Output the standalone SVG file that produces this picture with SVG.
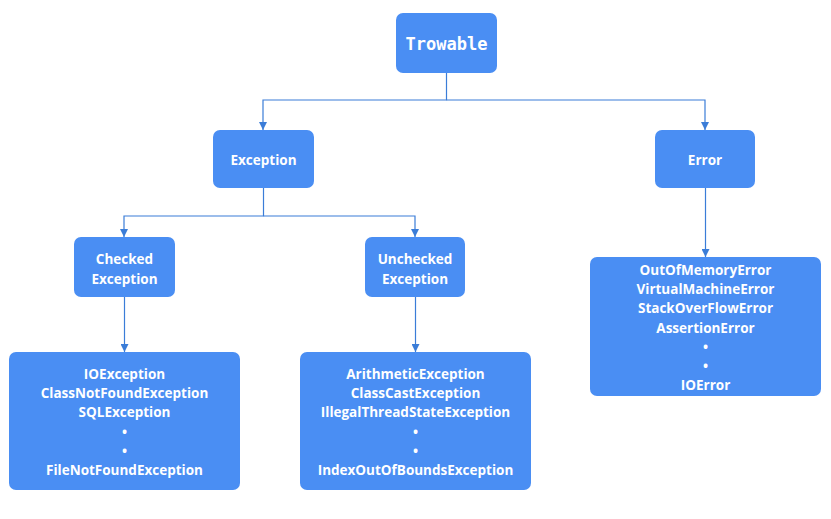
<svg xmlns="http://www.w3.org/2000/svg" width="831" height="519" viewBox="0 0 831 519">
<style>
.box{fill:#4a8ef3;}
.t{font-family:"Open Sans","Noto Sans",sans-serif;font-weight:bold;font-size:13.5px;fill:#ffffff;text-anchor:middle;}
.m{font-family:"DejaVu Sans Mono","Liberation Mono",monospace;font-weight:bold;font-size:17px;fill:#ffffff;text-anchor:middle;}
.c{fill:none;stroke:#3b7dd8;stroke-width:1.2;}
</style>
<defs>
<marker id="ah" viewBox="0 0 10 10" refX="10" refY="5" markerWidth="8" markerHeight="8" markerUnits="userSpaceOnUse" orient="auto">
<path d="M0,0 L10,5 L0,10 z" fill="#3b7dd8"/>
</marker>
</defs>
<rect width="831" height="519" fill="#ffffff"/>
<g id="connectors">
<path class="c" d="M446.5,73 V100 H263 V130" marker-end="url(#ah)"/>
<path class="c" d="M446.5,100 H705 V130" marker-end="url(#ah)"/>
<path class="c" d="M263.5,188 V216 H124 V237" marker-end="url(#ah)"/>
<path class="c" d="M263.5,216 H415 V237" marker-end="url(#ah)"/>
<path class="c" d="M124.5,297 V352" marker-end="url(#ah)"/>
<path class="c" d="M415.5,297 V352" marker-end="url(#ah)"/>
<path class="c" d="M705.5,188 V257" marker-end="url(#ah)"/>
</g>
<g id="trowable">
<rect class="box" x="396" y="13" width="101" height="60" rx="7"/>
<text class="m" x="446.5" y="50">Trowable</text>
</g>
<g id="exception">
<rect class="box" x="213" y="130" width="101" height="58" rx="7"/>
<text class="t" x="263.5" y="165">Exception</text>
</g>
<g id="error">
<rect class="box" x="655" y="130" width="100" height="58" rx="7"/>
<text class="t" x="705" y="165">Error</text>
</g>
<g id="checked">
<rect class="box" x="74" y="237" width="101" height="60" rx="7"/>
<text class="t" x="124.5" y="264">Checked</text>
<text class="t" x="124.5" y="284">Exception</text>
</g>
<g id="unchecked">
<rect class="box" x="365" y="237" width="100" height="60" rx="7"/>
<text class="t" x="415" y="264">Unchecked</text>
<text class="t" x="415" y="284">Exception</text>
</g>
<g id="checked-list">
<rect class="box" x="9" y="352" width="231" height="138" rx="7"/>
<text class="t" x="124.5" y="379">IOException</text>
<text class="t" x="124.5" y="398">ClassNotFoundException</text>
<text class="t" x="124.5" y="417">SQLException</text>
<text class="t" x="124.5" y="437">•</text>
<text class="t" x="124.5" y="456">•</text>
<text class="t" x="124.5" y="475">FileNotFoundException</text>
</g>
<g id="unchecked-list">
<rect class="box" x="300" y="352" width="231" height="138" rx="7"/>
<text class="t" x="415.5" y="379">ArithmeticException</text>
<text class="t" x="415.5" y="398">ClassCastException</text>
<text class="t" x="415.5" y="417">IllegalThreadStateException</text>
<text class="t" x="415.5" y="437">•</text>
<text class="t" x="415.5" y="456">•</text>
<text class="t" x="415.5" y="475">IndexOutOfBoundsException</text>
</g>
<g id="error-list">
<rect class="box" x="590" y="257" width="231" height="139" rx="7"/>
<text class="t" x="705.5" y="275">OutOfMemoryError</text>
<text class="t" x="705.5" y="294">VirtualMachineError</text>
<text class="t" x="705.5" y="313">StackOverFlowError</text>
<text class="t" x="705.5" y="333">AssertionError</text>
<text class="t" x="705.5" y="352">•</text>
<text class="t" x="705.5" y="371">•</text>
<text class="t" x="705.5" y="390">IOError</text>
</g>
</svg>
